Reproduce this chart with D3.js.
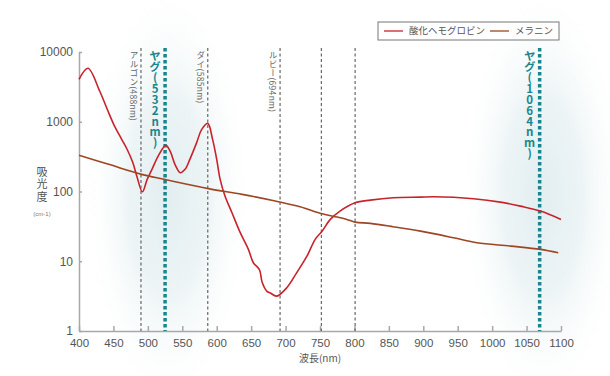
<!DOCTYPE html>
<html>
<head>
<meta charset="utf-8">
<script src="https://cdn.jsdelivr.net/npm/d3@7"></script>
<style>
  body { margin: 0; background: #fff; }
  svg text { font-family: "Liberation Sans", Arial, "Noto Sans CJK JP", sans-serif; }
  .axis path, .axis line { stroke: #a8a8a8; stroke-width: 1.5; }
  .axis text { fill: #555; font-size: 11.5px; }
  .vlabel { writing-mode: vertical-rl; font-family: "Noto Sans CJK JP", sans-serif; }
</style>
</head>
<body>
<svg id="chart" width="610" height="376"></svg>
<script>
// wavelength (nm) / absorption (cm-1)
const hbWave = [400, 413, 430, 441, 452, 462, 470, 478, 484, 492, 499, 506, 515, 526, 532, 540, 547, 554, 561, 571, 578, 587, 594, 600, 605, 612, 622, 634, 646, 653, 662, 666, 673, 678, 687, 702, 716, 731, 743, 753, 765, 779, 801, 823, 856, 896, 915, 973, 1012, 1041, 1070, 1100]
const hbValue = [4060, 5840, 2760, 1510, 850, 560, 400, 262, 166, 99, 149, 208, 322, 459, 385, 237, 186, 208, 289, 506, 771, 948, 559, 289, 149, 86, 50, 25.9, 14.8, 9.6, 7.6, 5.0, 3.7, 3.5, 3.16, 4.2, 6.8, 11.8, 20.6, 27, 39.8, 52.4, 69, 75.3, 81.5, 83.1, 84, 78.8, 70.5, 61.7, 52.4, 39.8]

const melWave = [400, 443, 491, 525, 588, 637, 685, 721, 753, 775, 789, 801, 823, 856, 896, 944, 978, 1027, 1070, 1096]
const melValue = [330, 245, 176, 149, 110, 91, 73, 60.5, 48, 43, 39.8, 36.4, 34.9, 31.3, 27, 21.7, 18.4, 16.5, 14.8, 13.2]

const xTicks = [400, 450, 500, 550, 600, 650, 700, 750, 800, 850, 900, 950, 1000, 1050, 1100]
const yTicks = [1, 10, 100, 1000, 10000]

// laser lines as drawn, label text, kind
const laserWave = [490, 525, 587, 692, 752, 801, 1069]
const laserLabel = ['アルゴン(488nm)', 'ヤグ(532nm)', 'ダイ(585nm)', 'ルビー(694nm)', '', '', 'ヤグ(1064nm)']
const laserYag = [false, true, false, false, false, false, true]

const seriesNames = ['酸化ヘモグロビン', 'メラニン']
const seriesColors = ['#c8232b', '#9e4623']

const svg = d3.select('#chart')

const x = d3.scaleLinear().domain([400, 1100]).range([79, 561])
const y = d3.scaleLog().domain([1, 10000]).range([331, 52])

// soft glow behind the YAG lines
const defs = svg.append('defs')
const grad = defs.append('radialGradient').attr('id', 'glow')
grad.append('stop').attr('offset', '0%').attr('stop-color', '#dfecef').attr('stop-opacity', 0.9)
grad.append('stop').attr('offset', '45%').attr('stop-color', '#e6f0f2').attr('stop-opacity', 0.75)
grad.append('stop').attr('offset', '100%').attr('stop-color', '#ffffff').attr('stop-opacity', 0)

svg.selectAll('.glow')
  .data(laserWave.filter((d, i) => laserYag[i]))
  .enter()
  .append('ellipse')
  .attr('class', 'glow')
  .attr('cx', (d) => x(d) + 3)
  .attr('cy', 195)
  .attr('rx', 85)
  .attr('ry', 215)
  .attr('fill', 'url(#glow)')

// axes
svg.append('g')
  .attr('class', 'axis')
  .attr('transform', `translate(${x.range()[0]},0)`)
  .call(d3.axisLeft(y).tickValues(yTicks).tickFormat(d3.format('d')).tickSize(-3).tickSizeOuter(0).tickPadding(6))
  .call((g) => g.selectAll('text').style('font-size', '12px'))

svg.append('g')
  .attr('class', 'axis')
  .attr('transform', `translate(0,${y.range()[0]})`)
  .call(d3.axisBottom(x).tickValues(xTicks).tickFormat(d3.format('d')).tickSize(-5).tickSizeOuter(0).tickPadding(7.5))

// laser lines
const lasers = svg.selectAll('.laser')
  .data(laserWave)
  .enter()
  .append('g')
  .attr('class', 'laser')

lasers.append('line')
  .attr('x1', (d) => x(d))
  .attr('x2', (d) => x(d))
  .attr('y1', 48)
  .attr('y2', y.range()[0])
  .attr('stroke', (d, i) => laserYag[i] ? '#18868c' : '#666')
  .attr('stroke-width', (d, i) => laserYag[i] ? 3.5 : 1.2)
  .attr('stroke-dasharray', (d, i) => laserYag[i] ? '3.5 2.5' : '3 2.5')

lasers.append('text')
  .attr('class', 'vlabel')
  .attr('x', (d, i) => x(d) - (laserYag[i] ? 10 : 7))
  .attr('y', (d, i) => laserYag[i] ? 50 : 51)
  .attr('fill', (d, i) => laserYag[i] ? '#18868c' : '#666')
  .style('font-size', (d, i) => laserYag[i] ? '11.5px' : '8.5px')
  .style('font-weight', (d, i) => laserYag[i] ? 'bold' : 'normal')
  .style('letter-spacing', (d, i) => laserYag[i] ? '-0.6px' : '0.3px')
  .style('text-orientation', (d, i) => laserYag[i] ? 'upright' : 'mixed')
  .text((d, i) => laserLabel[i])

// curves
const line = d3.line()
  .x((d) => x(d[0]))
  .y((d) => y(d[1]))
  .curve(d3.curveCatmullRom.alpha(0.5))

const series = [d3.zip(hbWave, hbValue), d3.zip(melWave, melValue)]

svg.selectAll('.curve')
  .data(series)
  .enter()
  .append('path')
  .attr('class', 'curve')
  .attr('d', line)
  .attr('fill', 'none')
  .attr('stroke', (d, i) => seriesColors[i])
  .attr('stroke-width', 1.6)

// legend
const legend = svg.append('g').attr('transform', 'translate(378,22)')
legend.append('rect')
  .attr('width', 181).attr('height', 18)
  .attr('fill', '#fff').attr('stroke', '#777').attr('stroke-width', 1)
const legendX = [6, 112]
const items = legend.selectAll('.item')
  .data(seriesNames)
  .enter()
  .append('g')
  .attr('transform', (d, i) => `translate(${legendX[i]},9)`)
items.append('line')
  .attr('x1', 0).attr('x2', 19)
  .attr('stroke', (d, i) => seriesColors[i]).attr('stroke-width', 1.3)
items.append('text')
  .attr('x', 25).attr('dy', '0.35em')
  .attr('fill', '#555')
  .style('font-size', '9.5px')
  .style('font-family', '"Noto Sans CJK JP", sans-serif')
  .text((d) => d)

// axis titles
svg.append('text')
  .attr('class', 'vlabel')
  .attr('x', 42).attr('y', 166)
  .attr('fill', '#555')
  .style('font-size', '11px')
  .style('letter-spacing', '1.5px')
  .text('吸光度')

svg.append('text')
  .attr('x', 42).attr('y', 216)
  .attr('text-anchor', 'middle')
  .attr('fill', '#777')
  .style('font-size', '6px')
  .text('(cm-1)')

svg.append('text')
  .attr('x', 320).attr('y', 362)
  .attr('text-anchor', 'middle')
  .attr('fill', '#555')
  .style('font-size', '10px')
  .style('font-family', '"Noto Sans CJK JP", sans-serif')
  .text('波長(nm)')
</script>
</body>
</html>
